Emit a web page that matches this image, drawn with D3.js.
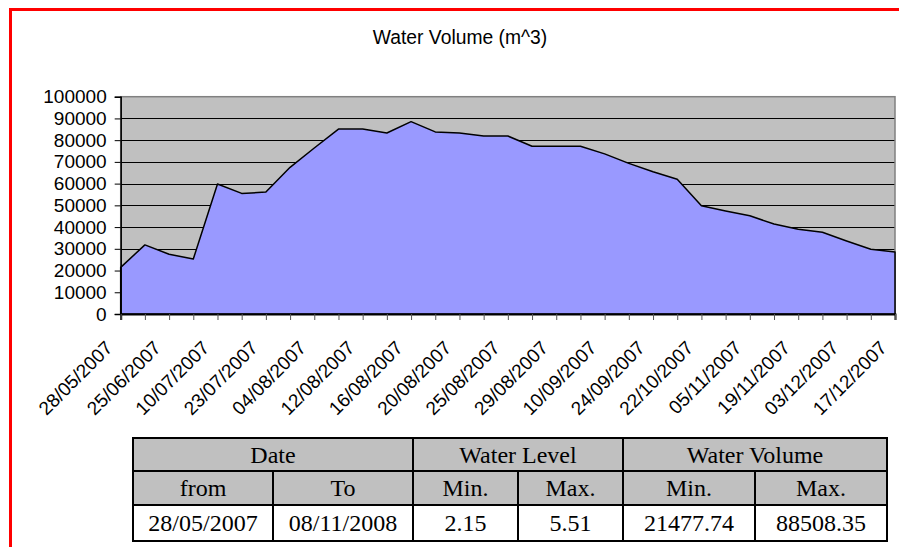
<!DOCTYPE html>
<html>
<head>
<meta charset="utf-8">
<script src="https://cdn.jsdelivr.net/npm/d3@7"></script>
<style>
  html, body { margin: 0; padding: 0; background: #fff; }
  svg { display: block; }
</style>
</head>
<body>
<svg id="chart" width="899" height="547"></svg>
<script>
// Water volume readings (m^3), one per survey date
const volumes = [
  21477.74, 31800, 27500, 25300, 59800, 55500, 56100, 67500, 76400,
  85100, 85100, 83300, 88508.35, 83800, 83300, 81900, 81900, 77200,
  77200, 77200, 73700, 69300, 65500, 62000, 49800, 47400, 45200,
  41400, 39000, 37600, 33600, 29800, 28500
];
// Dates shown on the category axis (every second reading)
const dateLabels = [
  "28/05/2007", "25/06/2007", "10/07/2007", "23/07/2007", "04/08/2007",
  "12/08/2007", "16/08/2007", "20/08/2007", "25/08/2007", "29/08/2007",
  "10/09/2007", "24/09/2007", "22/10/2007", "05/11/2007", "19/11/2007",
  "03/12/2007", "17/12/2007"
];
const yTicks = [0, 10000, 20000, 30000, 40000, 50000, 60000, 70000, 80000, 90000, 100000];

// Summary table
const groupHeaders = ["Date", "Water Level", "Water Volume"];
const subHeaders = ["from", "To", "Min.", "Max.", "Min.", "Max."];
const summaryRow = ["28/05/2007", "08/11/2008", "2.15", "5.51", "21477.74", "88508.35"];

const svg = d3.select("#chart");
const sans = "'Liberation Sans', Arial, sans-serif";
const serif = "'Liberation Serif', 'Times New Roman', serif";

// outer frame
svg.append("rect")
  .attr("x", 10.5).attr("y", 9.5)
  .attr("width", 900).attr("height", 560)
  .attr("fill", "none").attr("stroke", "#ff0000").attr("stroke-width", 3);

svg.append("text")
  .attr("x", 460).attr("y", 44)
  .attr("text-anchor", "middle")
  .attr("font-family", sans).attr("font-size", 19.3)
  .attr("fill", "#000")
  .text("Water Volume (m^3)");

const plot = { left: 120.7, right: 895, top: 96.7, bottom: 314 };

const x = d3.scalePoint()
  .domain(d3.range(volumes.length))
  .range([plot.left, plot.right]);

const y = d3.scaleLinear()
  .domain([0, 100000])
  .range([plot.bottom, plot.top]);

// plot background
svg.append("rect")
  .attr("x", plot.left).attr("y", plot.top)
  .attr("width", plot.right - plot.left).attr("height", plot.bottom - plot.top)
  .attr("fill", "#c0c0c0");

// horizontal gridlines
svg.append("g")
  .selectAll("line")
  .data(yTicks.filter(t => t > 0 && t < 100000))
  .join("line")
  .attr("x1", plot.left).attr("x2", plot.right)
  .attr("y1", d => Math.round(y(d)) + 0.5).attr("y2", d => Math.round(y(d)) + 0.5)
  .attr("stroke", "#000").attr("stroke-width", 1);

// plot border
svg.append("rect")
  .attr("x", plot.left).attr("y", plot.top)
  .attr("width", plot.right - plot.left).attr("height", plot.bottom - plot.top)
  .attr("fill", "none").attr("stroke", "#808080").attr("stroke-width", 1.5);

// filled area
const area = d3.area()
  .x((d, i) => x(i))
  .y0(y(0))
  .y1(d => y(d));

svg.append("path")
  .datum(volumes)
  .attr("d", area)
  .attr("fill", "#9999ff")
  .attr("stroke", "#000")
  .attr("stroke-width", 1.5)
  .attr("stroke-linejoin", "round");

// y axis
const yAxis = d3.axisLeft(y).tickValues(yTicks).tickSize(6).tickPadding(8)
  .tickFormat(d3.format("d"));
const gy = svg.append("g")
  .attr("transform", `translate(${plot.left},0)`)
  .call(yAxis);
gy.select(".domain").attr("stroke", "#000").attr("stroke-width", 1.5);
gy.selectAll(".tick line").attr("stroke", "#000");
gy.selectAll(".tick text")
  .attr("font-family", sans).attr("font-size", 19).attr("fill", "#000");
gy.attr("font-family", null).attr("font-size", null);

// x axis
const xAxis = d3.axisBottom(x).tickSize(6).tickFormat(() => "");
const gx = svg.append("g")
  .attr("transform", `translate(0,${plot.bottom})`)
  .call(xAxis);
gx.select(".domain").attr("stroke", "#000").attr("stroke-width", 2);
gx.selectAll(".tick line").attr("stroke", "#555");

// rotated date labels on every second tick
svg.append("g")
  .selectAll("text")
  .data(dateLabels)
  .join("text")
  .attr("transform", (d, i) => `translate(${x(i * 2) - 7},${plot.bottom + 35}) rotate(-45)`)
  .attr("text-anchor", "end")
  .attr("font-family", sans).attr("font-size", 19)
  .attr("fill", "#000")
  .text(d => d);

// summary table
const colX = [133, 273, 413, 518, 623, 755, 887];
const rowY = [438, 471, 505, 541];
const tbl = svg.append("g");

tbl.append("rect")
  .attr("x", colX[0]).attr("y", rowY[0])
  .attr("width", colX[6] - colX[0]).attr("height", rowY[2] - rowY[0])
  .attr("fill", "#c0c0c0");
tbl.append("rect")
  .attr("x", colX[0]).attr("y", rowY[2])
  .attr("width", colX[6] - colX[0]).attr("height", rowY[3] - rowY[2])
  .attr("fill", "#fff");

const groupSpans = [[0, 2], [2, 4], [4, 6]];
tbl.selectAll("text.grp")
  .data(groupHeaders)
  .join("text")
  .attr("class", "grp")
  .attr("x", (d, i) => (colX[groupSpans[i][0]] + colX[groupSpans[i][1]]) / 2)
  .attr("y", (rowY[0] + rowY[1]) / 2 + 8)
  .attr("text-anchor", "middle")
  .attr("font-family", serif).attr("font-size", 24)
  .text(d => d);

tbl.selectAll("text.sub")
  .data(subHeaders)
  .join("text")
  .attr("class", "sub")
  .attr("x", (d, i) => (colX[i] + colX[i + 1]) / 2)
  .attr("y", (rowY[1] + rowY[2]) / 2 + 8)
  .attr("text-anchor", "middle")
  .attr("font-family", serif).attr("font-size", 24)
  .text(d => d);

tbl.selectAll("text.val")
  .data(summaryRow)
  .join("text")
  .attr("class", "val")
  .attr("x", (d, i) => (colX[i] + colX[i + 1]) / 2)
  .attr("y", (rowY[2] + rowY[3]) / 2 + 8)
  .attr("text-anchor", "middle")
  .attr("font-family", serif).attr("font-size", 24)
  .text(d => d);

// table rules
const rules = [];
rowY.forEach(r => rules.push([colX[0], r, colX[6], r]));
[0, 2, 4, 6].forEach(c => rules.push([colX[c], rowY[0], colX[c], rowY[3]]));
[1, 3, 5].forEach(c => rules.push([colX[c], rowY[1], colX[c], rowY[3]]));
tbl.selectAll("line")
  .data(rules)
  .join("line")
  .attr("x1", d => d[0]).attr("y1", d => d[1])
  .attr("x2", d => d[2]).attr("y2", d => d[3])
  .attr("stroke", "#000").attr("stroke-width", 2)
  .attr("stroke-linecap", "square");
</script>
</body>
</html>
